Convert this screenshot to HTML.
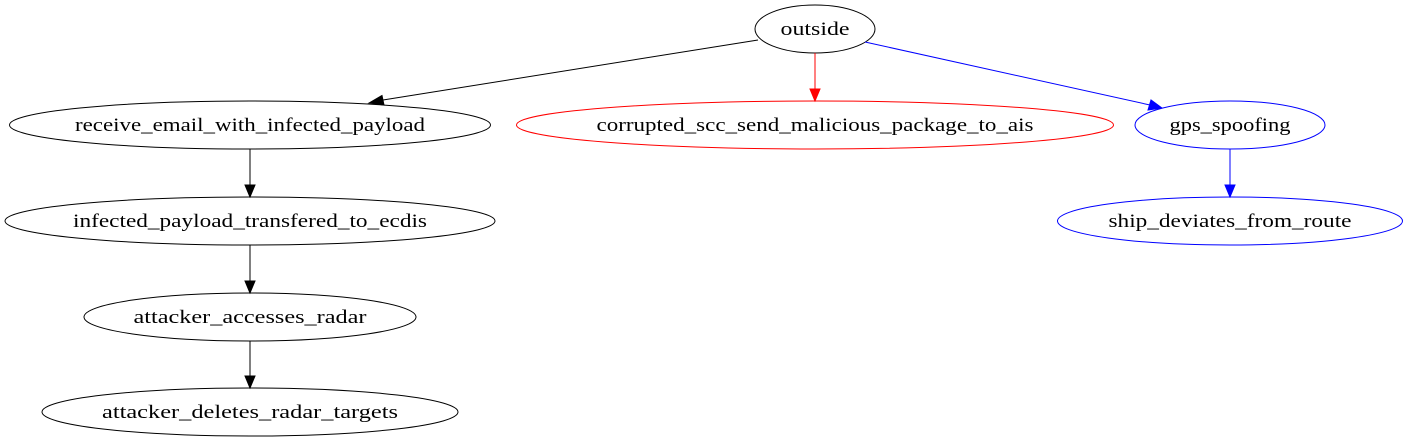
<!DOCTYPE html>
<html><head><style>body{margin:0;background:#fff}svg{display:block}text{font-family:"Liberation Serif",serif;font-size:19px;text-anchor:middle}</style></head>
<body>
<svg width="1408" height="443" xmlns="http://www.w3.org/2000/svg">
<g fill="none" stroke-width="1">
<ellipse cx="815" cy="29" rx="60" ry="24" stroke="#000"/>
<ellipse cx="250" cy="125" rx="240.5" ry="24" stroke="#000"/>
<ellipse cx="815" cy="125" rx="298.5" ry="24" stroke="red"/>
<ellipse cx="1230" cy="125" rx="95" ry="24" stroke="blue"/>
<ellipse cx="1230" cy="221" rx="172.5" ry="24" stroke="blue"/>
<ellipse cx="250" cy="221" rx="245" ry="24" stroke="#000"/>
<ellipse cx="250" cy="317" rx="166" ry="24" stroke="#000"/>
<ellipse cx="250" cy="412" rx="208" ry="24" stroke="#000"/>
<line x1="758" y1="40" x2="383" y2="100" stroke="#000"/>
<line x1="815" y1="53" x2="815" y2="90" stroke="red"/>
<line x1="865" y1="42" x2="1150" y2="105" stroke="blue"/>
<line x1="250" y1="149" x2="250" y2="186" stroke="#000"/>
<line x1="250" y1="245" x2="250" y2="282" stroke="#000"/>
<line x1="250" y1="341" x2="250" y2="377" stroke="#000"/>
<line x1="1230" y1="149" x2="1230" y2="186" stroke="blue"/>
</g>
<polygon points="369,103 382,95.5 384,105" fill="#000" stroke="#000"/>
<polygon points="815,101 810,89 820,89" fill="red" stroke="red"/>
<polygon points="1162,108 1148,110 1151,100" fill="blue" stroke="blue"/>
<polygon points="250,197 245,185 255,185" fill="#000" stroke="#000"/>
<polygon points="250,293 245,281 255,281" fill="#000" stroke="#000"/>
<polygon points="250,388 245,376 255,376" fill="#000" stroke="#000"/>
<polygon points="1230,197 1225,185 1235,185" fill="blue" stroke="blue"/>
<text x="815" y="35" textLength="69" lengthAdjust="spacingAndGlyphs">outside</text>
<text x="250" y="131" textLength="350" lengthAdjust="spacingAndGlyphs">receive_email_with_infected_payload</text>
<text x="815" y="131" textLength="437" lengthAdjust="spacingAndGlyphs">corrupted_scc_send_malicious_package_to_ais</text>
<text x="1230" y="131" textLength="121" lengthAdjust="spacingAndGlyphs">gps_spoofing</text>
<text x="1230" y="227" textLength="243" lengthAdjust="spacingAndGlyphs">ship_deviates_from_route</text>
<text x="250" y="227" textLength="354" lengthAdjust="spacingAndGlyphs">infected_payload_transfered_to_ecdis</text>
<text x="250" y="323" textLength="233" lengthAdjust="spacingAndGlyphs">attacker_accesses_radar</text>
<text x="250" y="418" textLength="296" lengthAdjust="spacingAndGlyphs">attacker_deletes_radar_targets</text>
</svg>
</body></html>
